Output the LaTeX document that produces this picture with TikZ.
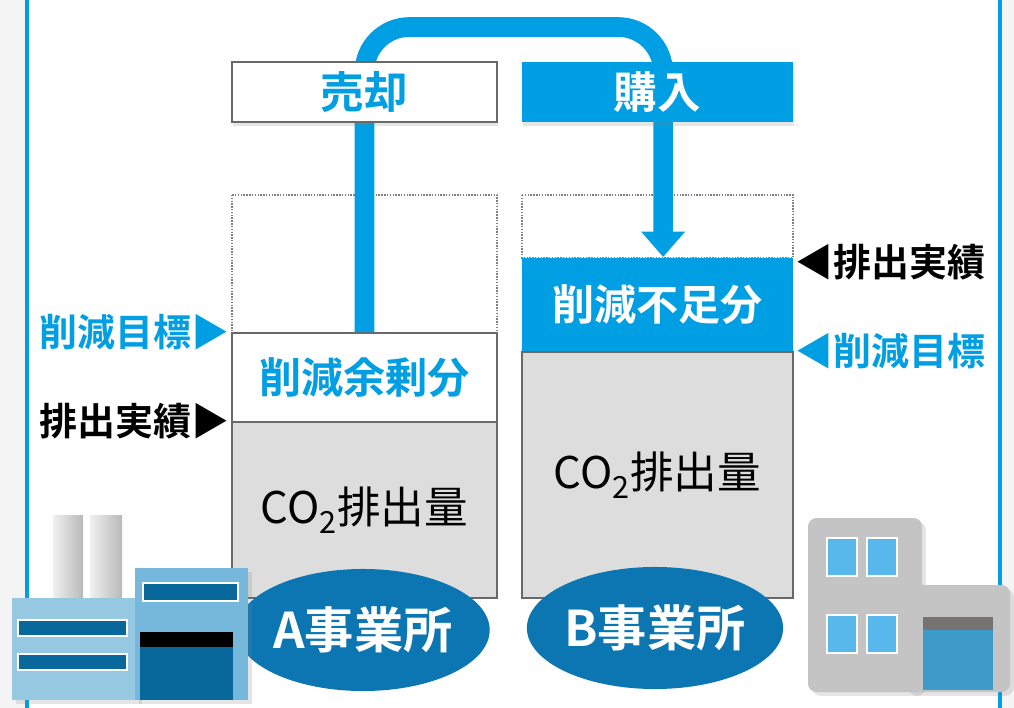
\documentclass[tikz,border=0pt]{standalone}
\usepackage{fontspec}
\setmainfont{Noto Sans CJK JP}[BoldFont={Noto Sans CJK JP Bold}]
\usetikzlibrary{arrows.meta,shapes.geometric,shadows}

\definecolor{tradeblue}{RGB}{0,158,226}
\definecolor{siteblue}{RGB}{12,118,178}
\definecolor{boxgray}{RGB}{221,221,221}
\definecolor{linegray}{RGB}{105,105,105}
\definecolor{bggray}{RGB}{244,244,244}
\definecolor{factorylight}{RGB}{150,200,226}
\definecolor{factorymid}{RGB}{118,184,220}
\definecolor{factorydark}{RGB}{8,104,156}
\definecolor{buildgray}{RGB}{196,196,196}
\definecolor{winblue}{RGB}{88,184,236}
\definecolor{doorblue}{RGB}{62,154,200}
\definecolor{doorgray}{RGB}{118,114,114}

\begin{document}
\begin{tikzpicture}[x=0.025cm,y=-0.025cm,
    tradebox/.style={rectangle, inner sep=0pt, minimum height=1.5cm,
        font=\fontsize{31}{31}\selectfont\bfseries,
        drop shadow={opacity=0.2, shadow xshift=1pt, shadow yshift=-2.5pt}},
    sellbox/.style={tradebox, draw=linegray, line width=2pt, fill=white,
        text=tradeblue, minimum width=6.625cm},
    buybox/.style={tradebox, fill=tradeblue, text=white, minimum width=6.775cm},
    partbox/.style={rectangle, inner sep=0pt, line width=1.4pt,
        font=\fontsize{30}{30}\selectfont\bfseries},
    emisbox/.style={rectangle, inner sep=0pt, draw=linegray, line width=1.4pt,
        fill=boxgray, font=\fontsize{31}{31}\selectfont},
    site/.style={ellipse, inner sep=0pt, fill=siteblue, text=white,
        minimum width=5.7cm, minimum height=3.05cm,
        font=\fontsize{35}{35}\selectfont\bfseries},
    sidelabel/.style={inner sep=1pt, font=\fontsize{27}{27}\selectfont\bfseries},
    transfer/.style={tradeblue, line width=14pt, rounded corners=32pt,
        -{Triangle[length=18pt, width=30pt]}},
    planned/.style={densely dotted, gray, line width=1pt}]

    \useasboundingbox (0,0) rectangle (1014,708);

    % Background and frame
    \fill[bggray] (0,0) rectangle (1014,708);
    \fill[white] (27,0) rectangle (1000,708);
    \draw[tradeblue, line width=3pt] (27,0) -- (27,708);
    \draw[tradeblue, line width=3pt] (1000,0) -- (1000,708);

    % Planned emission outlines
    \draw[planned] (232,195) rectangle (497,333);
    \draw[planned] (522,195) rectangle (793,258);

    % Site A: surplus over actual emissions
    \node[partbox, draw=linegray, fill=white, text=tradeblue,
        minimum width=6.625cm, minimum height=2.225cm] (surplus) at (364.5,377.5) {削減余剰分};
    \node[emisbox, minimum width=6.625cm, minimum height=4.4cm] (emisA) at (364.5,510) {CO\textsubscript{2}排出量};

    % Site B: shortfall over the target
    \node[partbox, fill=tradeblue, text=white,
        minimum width=6.775cm, minimum height=2.35cm] (shortage) at (657.5,305) {削減不足分};
    \node[emisbox, minimum width=6.775cm, minimum height=6.15cm] (emisB) at (657.5,475) {CO\textsubscript{2}排出量};

    % Transfer from A to B
    \coordinate (bend) at (0,27);
    \coordinate (drop) at ([xshift=0.14cm]shortage.north);
    \draw[transfer] (surplus.north) -- (surplus.north |- bend)
        -- (drop |- bend) -- (drop);

    % Trade boxes
    \node[sellbox] (sell) at (364.5,92) {売却};
    \node[buybox] (buy) at (657.5,92) {購入};

    % Side labels
    \node[sidelabel, text=tradeblue, anchor=east] (targetA) at (surplus.north west) {削減目標▶};
    \node[sidelabel, anchor=east] (recordA) at (emisA.north west) {排出実績▶};
    \node[sidelabel, anchor=west] (recordB) at ([yshift=-0.12cm]shortage.north east) {◀排出実績};
    \node[sidelabel, text=tradeblue, anchor=west] (targetB) at (emisB.north east) {◀削減目標};

    % Site names
    \node[site] (siteA) at (363,630) {A事業所};
    \node[site] (siteB) at (655,628) {B事業所};

    % Factory
    \shade[left color=gray!12, right color=gray!55] (53,515) rectangle (83,600);
    \shade[left color=gray!12, right color=gray!55] (90,515) rectangle (122,600);
    \fill[factorylight, drop shadow={opacity=0.2}] (12,598) rectangle (138,700);
    \fill[factorymid, drop shadow={opacity=0.2}] (135,568) rectangle (248,700);
    \filldraw[fill=factorydark, draw=white, line width=2pt] (18,620) rectangle (127,636);
    \filldraw[fill=factorydark, draw=white, line width=2pt] (18,654) rectangle (127,670);
    \filldraw[fill=factorydark, draw=white, line width=2pt] (143,583) rectangle (238,601);
    \fill[black] (140,632) rectangle (233,647);
    \fill[factorydark] (140,647) rectangle (233,700);

    % Office building
    \fill[buildgray, rounded corners=6, drop shadow={opacity=0.2}] (808,518) rectangle (922,692);
    \fill[buildgray, rounded corners=6, drop shadow={opacity=0.2}] (905,585) rectangle (1010,692);
    \foreach \wx in {827,867}
        \foreach \wy in {538,615}
            \filldraw[fill=winblue, draw=white, line width=1.5pt] (\wx,\wy) rectangle ++(30,38);
    \fill[doorgray] (923,617) rectangle (993,630);
    \fill[doorblue] (923,630) rectangle (993,690);

\end{tikzpicture}
\end{document}
